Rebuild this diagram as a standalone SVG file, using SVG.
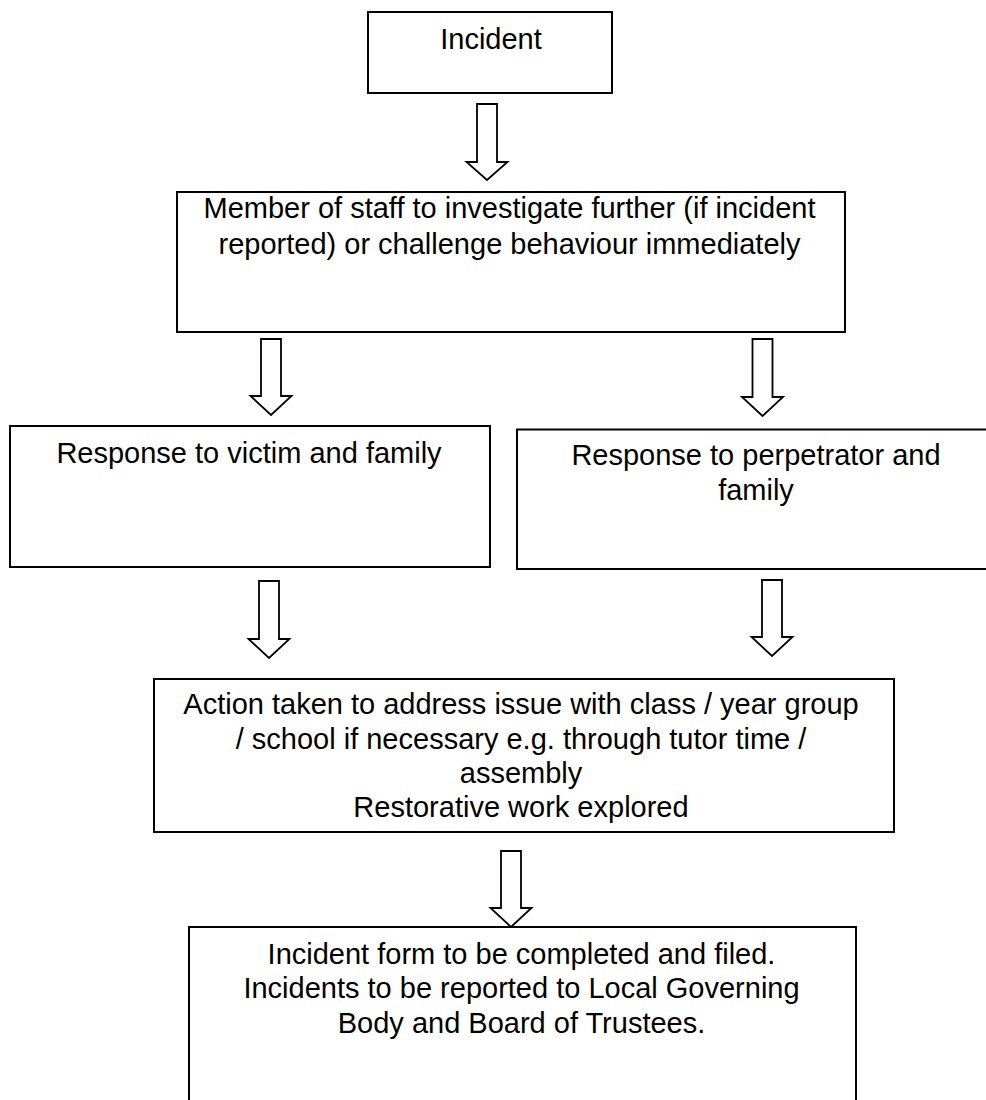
<svg xmlns="http://www.w3.org/2000/svg" width="986" height="1100" viewBox="0 0 986 1100">
<style>
.box{fill:#fff;stroke:#000;stroke-width:2}
.arr{fill:#fff;stroke:#000;stroke-width:1.8;stroke-linejoin:miter}
.t{font-family:"Liberation Sans",Arial,sans-serif;font-size:29px;fill:#000;text-anchor:middle}
</style>
<rect width="986" height="1100" fill="#fff"/>
<g id="connectors">
<polygon class="arr" points="477,104 497,104 497,162 507.5,162 487,180 466.5,162 477,162"/>
<polygon class="arr" points="261,339 281,339 281,396 291.5,396 271,415 250.5,396 261,396"/>
<polygon class="arr" points="752.5,339 772.5,339 772.5,397 783,397 762.5,416 742,397 752.5,397"/>
<polygon class="arr" points="259,581 279,581 279,639 289.5,639 269,658 248.5,639 259,639"/>
<polygon class="arr" points="762,580 782,580 782,637 792.5,637 772,656 751.5,637 762,637"/>
<polygon class="arr" points="501,851 521,851 521,908 531.5,908 511,927 490.5,908 501,908"/>
</g>
<g id="incident">
<rect class="box" x="368" y="12" width="244" height="81"/>
<text class="t" x="491" y="49">Incident</text>
</g>
<g id="investigate">
<rect class="box" x="177" y="192" width="668" height="140"/>
<text class="t" x="509.5" y="218">Member of staff to investigate further (if incident</text>
<text class="t" x="509.5" y="254">reported) or challenge behaviour immediately</text>
</g>
<g id="victim">
<rect class="box" x="10" y="426" width="480" height="141"/>
<text class="t" x="249" y="463">Response to victim and family</text>
</g>
<g id="perpetrator">
<rect class="box" x="517" y="429.5" width="480" height="139.5"/>
<text class="t" x="756" y="465">Response to perpetrator and</text>
<text class="t" x="756" y="500">family</text>
</g>
<g id="action">
<rect class="box" x="154" y="679" width="740" height="153"/>
<text class="t" x="521" y="714">Action taken to address issue with class / year group</text>
<text class="t" x="521" y="748.5">/ school if necessary e.g. through tutor time /</text>
<text class="t" x="521" y="782.5">assembly</text>
<text class="t" x="521" y="816.5">Restorative work explored</text>
</g>
<g id="report">
<rect class="box" x="189" y="927" width="667" height="180"/>
<text class="t" x="521.5" y="964">Incident form to be completed and filed.</text>
<text class="t" x="521.5" y="998">Incidents to be reported to Local Governing</text>
<text class="t" x="521.5" y="1033">Body and Board of Trustees.</text>
</g>
</svg>
